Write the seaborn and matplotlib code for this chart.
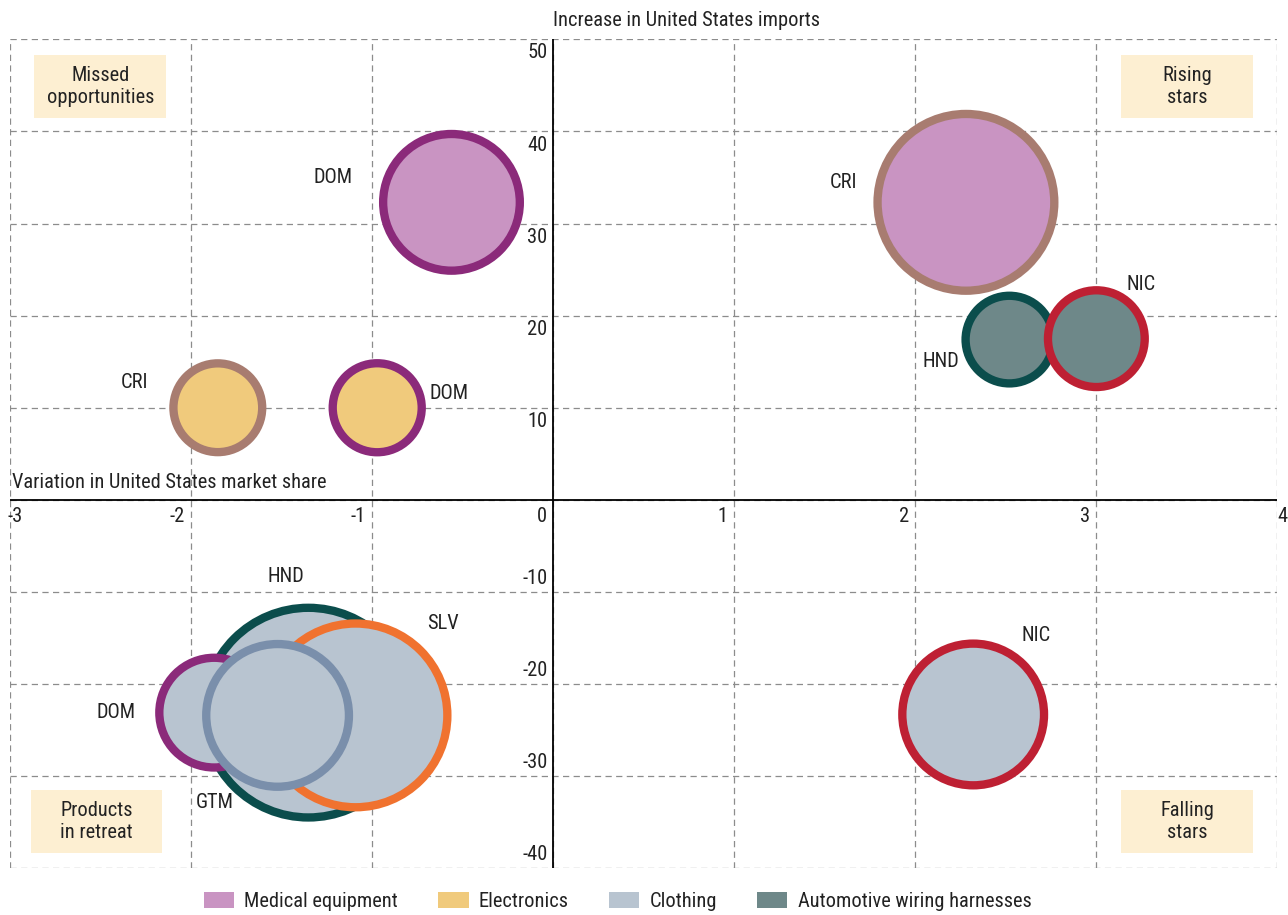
import pandas as pd
import matplotlib
matplotlib.use('Agg')
import matplotlib.pyplot as plt
from matplotlib import font_manager
from matplotlib.patches import Patch, Rectangle
import seaborn as sns

# Bubble data: one row per country/product
countries = ['DOM', 'CRI', 'CRI', 'DOM', 'HND', 'NIC', 'NIC', 'HND', 'DOM', 'SLV', 'GTM']
products = ['Medical equipment', 'Medical equipment', 'Electronics', 'Electronics',
            'Automotive wiring harnesses', 'Automotive wiring harnesses',
            'Clothing', 'Clothing', 'Clothing', 'Clothing', 'Clothing']
share_change = [-0.56, 2.28, -1.85, -0.97, 2.52, 3.00, 2.32, -1.35, -1.87, -1.09, -1.52]
import_growth = [32.3, 32.3, 10.0, 10.0, 17.4, 17.5, -23.3, -23.1, -23.1, -23.4, -23.4]
bubble_value = [46.7, 78.1, 19.7, 19.8, 19.2, 23.4, 50.2, 109.9, 30.1, 84.4, 50.9]

legend_order = ['Medical equipment', 'Electronics', 'Clothing', 'Automotive wiring harnesses']
x_ticks = list(range(-3, 5))
y_ticks = list(range(-40, 51, 10))
quadrants = ['Missed\nopportunities', 'Rising\nstars', 'Products\nin retreat', 'Falling\nstars']

# styling
fill_colors = {'Medical equipment': '#c994c2', 'Electronics': '#f0ca7c',
               'Clothing': '#b8c4d0', 'Automotive wiring harnesses': '#6e8889'}
edge_colors = {'DOM': '#8b2a7a', 'CRI': '#a87c70', 'HND': '#0b4d4c',
               'NIC': '#be2033', 'SLV': '#f0722f', 'GTM': '#7a8fab'}
# label offsets (points) relative to bubble centre
label_offsets = [(-85, 18), (-88, 14), (-60, 18), (52, 10), (-49, -16), (32, 39),
                 (45, 57), (-16, 98), (-71, 0), (63, 66), (-45, -63)]

sns.set_theme(style='white')
available = {f.name for f in font_manager.fontManager.ttflist}
font = 'DejaVu Sans'
for cand in ['Roboto Condensed', 'Liberation Sans Narrow', 'Roboto']:
    if cand in available:
        font = cand
        break
plt.rcParams['font.family'] = [font, 'DejaVu Sans']
fs = 14.7
txt_color = '#222222'

df = pd.DataFrame({'country': countries, 'product': products,
                   'share_change': share_change, 'import_growth': import_growth,
                   'value': bubble_value})

fig = plt.figure(figsize=(12.88, 9.15), dpi=100)
ax = fig.add_axes([0.007376, 0.05104, 0.98447, 0.90601])

k = 207.36  # points^2 per value unit
sns.scatterplot(data=df, x='share_change', y='import_growth', hue='product',
                palette=fill_colors, size='value',
                sizes=(k * min(bubble_value), k * max(bubble_value)),
                edgecolor=[edge_colors[c] for c in countries], linewidth=6,
                legend=False, ax=ax, zorder=3)

ax.set_xlim(-3, 4)
ax.set_ylim(-40, 50)
ax.set_xticks(x_ticks)
ax.set_yticks(y_ticks)
ax.tick_params(length=0, labelbottom=False, labelleft=False)
ax.set_xlabel('')
ax.set_ylabel('')
ax.grid(True, color='#8c8c8c', linewidth=0.9, linestyle=(0, (5, 3.5)), zorder=0)
for s in ax.spines.values():
    s.set_visible(False)
ax.axhline(0, color='black', lw=1.3, zorder=2)
ax.axvline(0, color='black', lw=1.3, zorder=2)

# tick labels along the zero axes
for v in x_ticks:
    if v == -3:
        ax.annotate(str(v), (v, 0), xytext=(-1.5, -5), textcoords='offset points',
                    ha='left', va='top', fontsize=fs, color=txt_color)
    elif v == 4:
        ax.annotate(str(v), (v, 0), xytext=(0, -5), textcoords='offset points',
                    ha='left', va='top', fontsize=fs, color=txt_color,
                    annotation_clip=False)
    else:
        ax.annotate(str(v), (v, 0), xytext=(-4.5, -5), textcoords='offset points',
                    ha='right', va='top', fontsize=fs, color=txt_color)
for v in y_ticks:
    if v == 0:
        continue
    ax.annotate(str(v), (0, v), xytext=(-4, -3 if v > 0 else 3),
                textcoords='offset points', ha='right',
                va='top' if v > 0 else 'bottom', fontsize=fs, color=txt_color)

# bubble labels
for c, x, y, off in zip(countries, share_change, import_growth, label_offsets):
    ax.annotate(c, (x, y), xytext=off, textcoords='offset points',
                ha='center', va='center', fontsize=fs, color=txt_color, zorder=4)

# axis titles
ax.annotate('Increase in United States imports', (0, 1), xycoords=('data', 'axes fraction'),
            xytext=(0, 7), textcoords='offset points', ha='left', va='bottom',
            fontsize=fs, color=txt_color)
ax.annotate('Variation in United States market share', (-3, 0), xytext=(2, 6),
            textcoords='offset points', ha='left', va='bottom', fontsize=fs,
            color=txt_color)

# quadrant boxes
box_w, box_h = 0.104, 0.076
box_pos = [(0.0197, 0.905), (0.8766, 0.905), (0.0166, 0.0185), (0.8766, 0.0185)]
for (bx, by), txt in zip(box_pos, quadrants):
    ax.add_patch(Rectangle((bx, by), box_w, box_h, transform=ax.transAxes,
                           facecolor='#fdefd2', edgecolor='none', zorder=1))
    ax.text(bx + box_w / 2, by + box_h / 2, txt, transform=ax.transAxes,
            ha='center', va='center', fontsize=fs, linespacing=1.22,
            color=txt_color, zorder=2)

handles = [Patch(facecolor=fill_colors[p], edgecolor='none', label=p) for p in legend_order]
leg = fig.legend(handles=handles, loc='center', bbox_to_anchor=(0.4794, 0.0145), ncol=4,
                 frameon=False, fontsize=fs, handlelength=1.5, handleheight=0.85,
                 handletextpad=0.5, columnspacing=1.95)
for t in leg.get_texts():
    t.set_color(txt_color)

fig.savefig('out.png', dpi=100, facecolor='white')
